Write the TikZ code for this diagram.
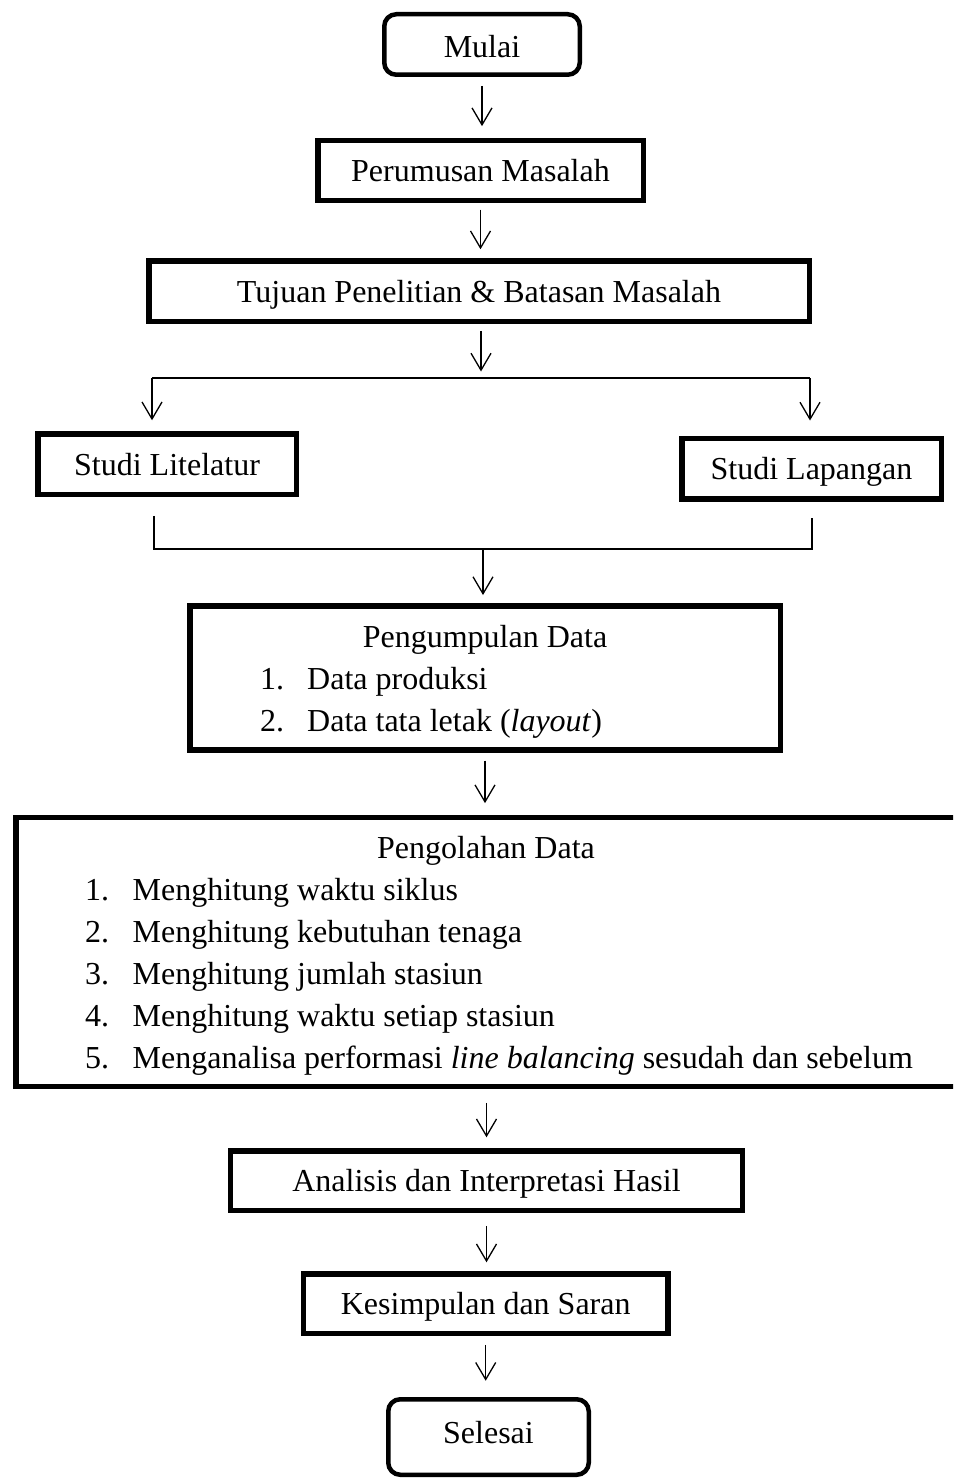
\documentclass[tikz,border=0pt]{standalone}
\usepackage{fontspec}
\setmainfont{Liberation Serif}
\usetikzlibrary{arrows.meta}
\begin{document}
\begin{tikzpicture}[x=1pt,y=-1pt,
  txt/.style={font=\fontsize{32}{38}\selectfont, inner sep=0pt},
  box/.style={draw, line width=5.5pt, txt, text height=22pt, text depth=0pt, align=center},
  rbox/.style={box, line width=4.5pt, rounded corners=12pt},
  conn/.style={line width=1.3pt},
  arr/.style={conn, -{Straight Barb[length=17pt,width=20pt]}}]
\clip (0,0) rectangle (953,1479);
\fill[white] (0,0) rectangle (953,1479);
% boxes
\node[rbox, minimum width=195.5pt, minimum height=60.5pt, text height=27pt] (mulai) at (482,44.5) {Mulai};
\node[box, minimum width=325.5pt, minimum height=60pt] (per) at (480.5,170.5) {Perumusan Masalah};
\node[box, minimum width=660.5pt, minimum height=60.5pt] (tuj) at (479,291) {Tujuan Penelitian \& Batasan Masalah};
\node[box, minimum width=258.5pt, minimum height=60.5pt] (lit) at (167,464) {Studi Litelatur};
\node[box, minimum width=259.5pt, minimum height=60.5pt] (lap) at (811.5,468.5) {Studi Lapangan};
\node[box, minimum width=590.5pt, minimum height=144pt] (pgm) at (485,677.8) {};
\node[box, minimum width=949pt, minimum height=269pt] (pgl) at (490.7,951.8) {};
\node[box, minimum width=512.4pt, minimum height=59.5pt] (ana) at (486.5,1180.5) {Analisis dan Interpretasi Hasil};
\node[box, minimum width=364.6pt, minimum height=59.5pt] (kes) at (485.7,1303.5) {Kesimpulan dan Saran};
\node[rbox, minimum width=200.5pt, minimum height=75.5pt, text depth=10pt] (sel) at (488.5,1437) {Selesai};
% texts of Pengumpulan Data
\node[txt, anchor=base] (pgmT) at (485,647) {Pengumpulan Data};
\node[txt, anchor=base west] (pgmN1) at (260,689.5) {1.};
\node[txt, anchor=base west] (pgmI1) at (307,689.5) {Data produksi};
\node[txt, anchor=base west] (pgmN2) at (260,731.5) {2.};
\node[txt, anchor=base west] (pgmI2) at (307,731.5) {Data tata letak (\textit{layout})};
% texts of Pengolahan Data
\node[txt, anchor=base] (pglT) at (486,858) {Pengolahan Data};
\node[txt, anchor=base west] (pglN1) at (85,900) {1.};
\node[txt, anchor=base west] (pglI1) at (132.5,900) {Menghitung waktu siklus};
\node[txt, anchor=base west] (pglN2) at (85,942) {2.};
\node[txt, anchor=base west] (pglI2) at (132.5,942) {Menghitung kebutuhan tenaga};
\node[txt, anchor=base west] (pglN3) at (85,984) {3.};
\node[txt, anchor=base west] (pglI3) at (132.5,984) {Menghitung jumlah stasiun};
\node[txt, anchor=base west] (pglN4) at (85,1026) {4.};
\node[txt, anchor=base west] (pglI4) at (132.5,1026) {Menghitung waktu setiap stasiun};
\node[txt, anchor=base west] (pglN5) at (85,1068) {5.};
\node[txt, anchor=base west] (pglI5) at (132.5,1068) {Menganalisa performasi \textit{line balancing} sesudah dan sebelum};
% junction coordinates
\coordinate (splitC) at (481,378);
\coordinate (splitL) at (152,378);
\coordinate (splitR) at (810,378);
\coordinate (mergeL) at (154,549);
\coordinate (mergeR) at (812,549);
\coordinate (mergeC) at (483,549);
% connectors
\draw[arr, shorten <=8.9pt, shorten >=11.6pt] (mulai.south) -- (mulai.south |- per.north);
\draw[arr, shorten <=6.5pt, shorten >=8.75pt] (per.south) -- (per.south |- tuj.north);
\draw[arr, shorten <=6.75pt] (tuj.south -| splitC) -- ([yshift=6.5pt]splitC);
\draw[conn] (splitL) -- (splitR);
\draw[arr, shorten >=10.75pt] (splitL) -- (splitL |- lit.north);
\draw[arr, shorten >=15pt] (splitR) -- (splitR |- lap.north);
\draw[conn, shorten <=18.75pt, shorten >=16.25pt] (lit.south -| mergeL) -- (mergeL) -- (mergeR) -- (lap.south -| mergeR);
\draw[arr, shorten >=8pt] (mergeC) -- (mergeC |- pgm.north);
\draw[arr, shorten <=8pt, shorten >=11.4pt] (pgm.south) -- (pgm.south |- pgl.north);
\draw[arr, shorten <=13.75pt, shorten >=10.75pt] (pgl.south -| ana.north) -- (ana.north);
\draw[arr, shorten <=12.75pt, shorten >=8.75pt] (ana.south) -- (ana.south |- kes.north);
\draw[arr, shorten <=8.75pt, shorten >=16.25pt] (kes.south) -- (kes.south |- sel.north);
\end{tikzpicture}
\end{document}
